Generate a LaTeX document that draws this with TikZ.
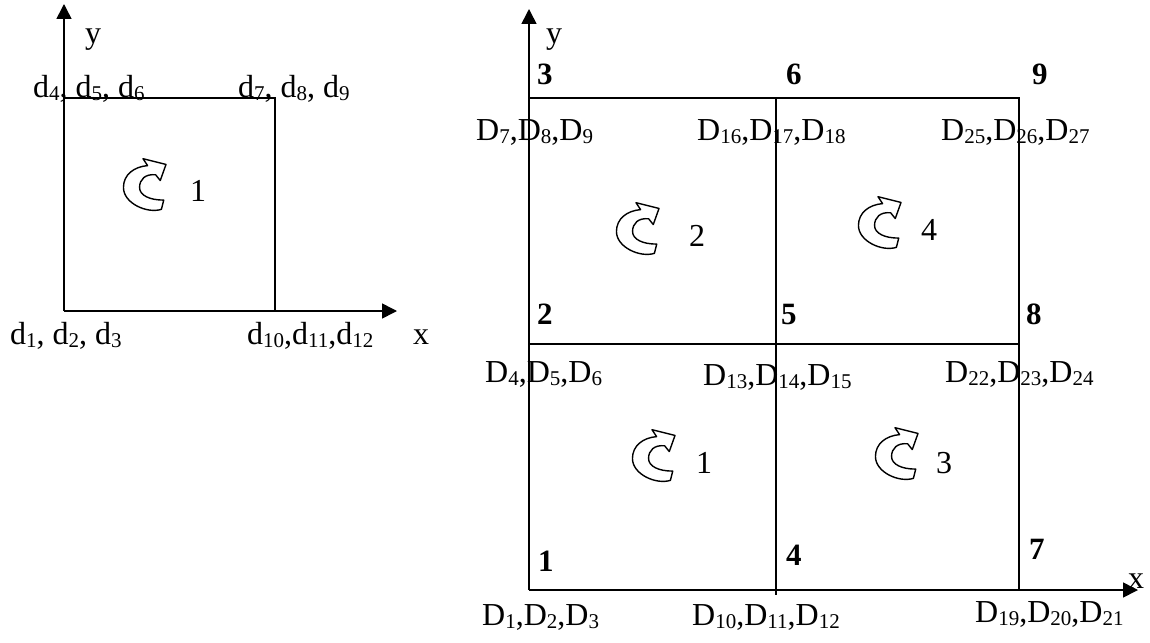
\documentclass[tikz,border=0pt]{standalone}
\usepackage{fontspec}
\setmainfont{Liberation Serif}
\usetikzlibrary{arrows.meta}
\newcommand\sbs[1]{\raisebox{-3pt}{\fontsize{21}{21}\selectfont #1}}
\tikzset{
  lbl/.style={inner sep=0pt, anchor=base west, font=\fontsize{32}{34}\selectfont},
  num/.style={lbl, font=\fontsize{31}{34}\selectfont\bfseries},
  edge/.style={line width=1.6pt},
  axis/.style={line width=1.6pt, -{Triangle[length=15pt,width=15pt]}},
  rotarrow/.pic={\draw[yscale=-1, scale=1.15, line width=1.4pt, fill=white, line join=round]
    (18,-14) -- (16,-22)
    .. controls (4,-26) and (-17,-17) .. (-17,-3)
    .. controls (-17,8) and (-8,15) .. (4,16)
    -- (0,22) -- (20,17) -- (15,3) -- (11,8)
    .. controls (2,9) and (-3,4) .. (-3,-3)
    .. controls (-3,-10) and (6,-14) .. (18,-14) -- cycle;}
}
\begin{document}
\begin{tikzpicture}[x=1pt,y=-1pt]
\useasboundingbox (0,0) rectangle (1150,642);
% ---------- left element ----------
\coordinate (a1) at (64,311);
\coordinate (a2) at (275,311);
\coordinate (a3) at (275,98);
\coordinate (a4) at (64,98);
\coordinate (ay) at (64,4);
\coordinate (ax) at (397,311);
\draw[edge] (a1) -- (a2) -- (a3) -- (a4);
\draw[axis] (a1) -- (ay);
\draw[axis] (a2) -- (ax);
\node[lbl] (ly) at (85,44) {y};
\node[lbl] (lx) at (413,344) {x};
\node[lbl] (l4) at (33,97) {d\sbs{4}, d\sbs{5}, d\sbs{6}};
\node[lbl] (l7) at (238,97) {d\sbs{7}, d\sbs{8}, d\sbs{9}};
\node[lbl] (l1) at (10,344) {d\sbs{1}, d\sbs{2}, d\sbs{3}};
\node[lbl] (l10) at (247,344) {d\sbs{10},d\sbs{11},d\sbs{12}};
\pic at (143,184) {rotarrow};
\node[lbl] (le1) at (190,201) {1};
% ---------- right mesh ----------
\coordinate (n1) at (529,590);
\coordinate (n2) at (529,344);
\coordinate (n3) at (529,98);
\coordinate (n4) at (776,590);
\coordinate (n4b) at (776,595);
\coordinate (n5) at (776,344);
\coordinate (n6) at (776,98);
\coordinate (n7) at (1019,590);
\coordinate (n8) at (1019,344);
\coordinate (n9) at (1019,98);
\coordinate (ry) at (529,9);
\coordinate (rx) at (1138,590);
\draw[edge] (n1) -- (n7) -- (n9) -- (n3);
\draw[edge] (n2) -- (n8);
\draw[edge] (n6) -- (n4b);
\draw[axis] (n1) -- (ry);
\draw[axis] (n7) -- (rx);
\node[lbl] (ryl) at (546,44) {y};
\node[lbl] (rxl) at (1128,588) {x};
\node[num] (k3) at (537,84) {3};
\node[num] (k6) at (786,84) {6};
\node[num] (k9) at (1032,84) {9};
\node[num] (k2) at (537,324) {2};
\node[num] (k5) at (781,324) {5};
\node[num] (k8) at (1026,324) {8};
\node[num] (k1) at (538,571) {1};
\node[num] (k4) at (786,565) {4};
\node[num] (k7) at (1029,559) {7};
\node[lbl] (D7) at (476,140) {D\sbs{7},D\sbs{8},D\sbs{9}};
\node[lbl] (D16) at (697,140) {D\sbs{16},D\sbs{17},D\sbs{18}};
\node[lbl] (D25) at (941,140) {D\sbs{25},D\sbs{26},D\sbs{27}};
\node[lbl] (D4) at (485,382) {D\sbs{4},D\sbs{5},D\sbs{6}};
\node[lbl] (D13) at (703,385) {D\sbs{13},D\sbs{14},D\sbs{15}};
\node[lbl] (D22) at (945,382) {D\sbs{22},D\sbs{23},D\sbs{24}};
\node[lbl] (D1) at (482,625) {D\sbs{1},D\sbs{2},D\sbs{3}};
\node[lbl] (D10) at (692,625) {D\sbs{10},D\sbs{11},D\sbs{12}};
\node[lbl] (D19) at (975,622) {D\sbs{19},D\sbs{20},D\sbs{21}};
\pic at (652,455) {rotarrow};
\node[lbl] (e1) at (696,473) {1};
\pic at (636,228) {rotarrow};
\node[lbl] (e2) at (689,246) {2};
\pic at (895,453) {rotarrow};
\node[lbl] (e3) at (936,473) {3};
\pic at (878,222) {rotarrow};
\node[lbl] (e4) at (921,240) {4};
\end{tikzpicture}
\end{document}
